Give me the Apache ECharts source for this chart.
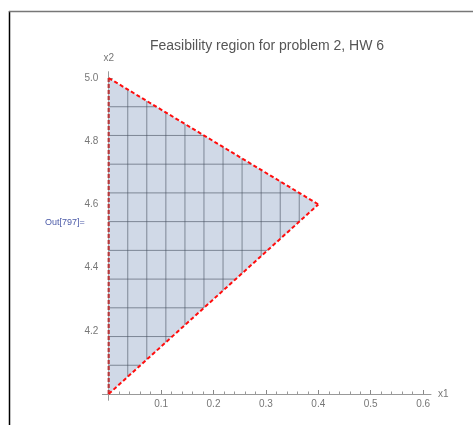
<!DOCTYPE html>
<html>
<head>
<meta charset="utf-8">
<script src="https://cdn.jsdelivr.net/npm/echarts@6/dist/echarts.min.js"></script>
<style>html,body{margin:0;padding:0;background:#fff}#c{width:473px;height:425px}</style>
</head>
<body>
<div id="c"></div>
<script>
// Feasible region vertices (x1, x2)
const regionX = [0, 0.4, 0];
const regionY = [5.0, 4.6, 4.0];
// Boundary segments: top constraint, bottom constraint, x1 = 0
const topLine = [[0, 5.0], [0.4, 4.6]];
const bottomLine = [[0, 4.0], [0.4, 4.6]];
const leftLine = [[0, 4.0], [0, 5.0]];
// Mesh line positions
const meshX = [0.0364, 0.0727, 0.1091, 0.1455, 0.1818, 0.2182, 0.2545, 0.2909, 0.3273, 0.3636];
const meshY = [4.0909, 4.1818, 4.2727, 4.3636, 4.4545, 4.5455, 4.6364, 4.7273, 4.8182, 4.9091];
// Ticks
const xMajor = [0.1, 0.2, 0.3, 0.4, 0.5, 0.6];
const xMinor = [0.02, 0.04, 0.06, 0.08, 0.12, 0.14, 0.16, 0.18, 0.22, 0.24, 0.26, 0.28, 0.32, 0.34, 0.36, 0.38, 0.42, 0.44, 0.46, 0.48, 0.52, 0.54, 0.56, 0.58];
const yMajor = [4.2, 4.4, 4.6, 4.8, 5.0];
const yMinor = [4.05, 4.1, 4.15, 4.25, 4.3, 4.35, 4.45, 4.5, 4.55, 4.65, 4.7, 4.75, 4.85, 4.9, 4.95];

const poly = regionX.map((x, i) => [x, regionY[i]]);

// clip a vertical/horizontal line to the polygon
function clip(val, vertical) {
  const hits = [];
  for (let i = 0; i < poly.length; i++) {
    const a = poly[i], b = poly[(i + 1) % poly.length];
    const ai = vertical ? 0 : 1, oi = vertical ? 1 : 0;
    const lo = Math.min(a[ai], b[ai]), hi = Math.max(a[ai], b[ai]);
    if (val < lo || val > hi || a[ai] === b[ai]) continue;
    const t = (val - a[ai]) / (b[ai] - a[ai]);
    hits.push(a[oi] + t * (b[oi] - a[oi]));
  }
  const mn = Math.min(...hits), mx = Math.max(...hits);
  return vertical ? [val, mn, val, mx] : [mn, val, mx, val];
}
const meshSegs = meshX.map(v => clip(v, true)).concat(meshY.map(v => clip(v, false)));

const X_LO = -0.012, X_HI = 0.615, Y_LO = 3.98, Y_HI = 5.02;
const labelColor = '#777';
const fontFam = '"Liberation Sans", Arial, sans-serif';

const chart = echarts.init(document.getElementById('c'), null, {renderer: 'canvas'});
chart.setOption({
  animation: false,
  backgroundColor: '#fff',
  title: {
    text: 'Feasibility region for problem 2, HW 6',
    left: 262, top: 34, textAlign: 'center',
    textStyle: {fontSize: 14, fontWeight: 'normal', color: '#555', fontFamily: fontFam}
  },
  graphic: [
    {type: 'line', shape: {x1: 9.5, y1: 11, x2: 9.5, y2: 425}, style: {stroke: '#000', lineWidth: 1.5}},
    {type: 'line', shape: {x1: 9, y1: 11.5, x2: 473, y2: 11.5}, style: {stroke: '#777', lineWidth: 1.5}},
    {type: 'text', left: 45, top: 218, style: {text: 'Out[797]=', fill: '#4b5aa8', font: '9px ' + fontFam}}
  ],
  grid: {left: 102.4, top: 71.7, width: 328.6, height: 328.6, containLabel: false},
  xAxis: [
    {
      type: 'value', min: X_LO, max: X_HI, offset: -6.3,
      name: 'x1', nameLocation: 'end', nameGap: 7,
      nameTextStyle: {color: labelColor, fontSize: 10, fontFamily: fontFam, verticalAlign: 'middle'},
      axisLine: {show: true, onZero: false, lineStyle: {color: '#999', width: 1}},
      axisTick: {show: true, inside: true, length: 4, customValues: xMajor, lineStyle: {color: '#888'}},
      axisLabel: {show: true, customValues: xMajor, color: labelColor, fontSize: 10, fontFamily: fontFam, margin: 5,
        formatter: v => v.toFixed(1)},
      splitLine: {show: false}
    },
    {
      type: 'value', min: X_LO, max: X_HI, offset: -6.3, position: 'bottom',
      axisLine: {show: false, onZero: false},
      axisTick: {show: true, inside: true, length: 2.5, customValues: xMinor, lineStyle: {color: '#999'}},
      axisLabel: {show: false}, splitLine: {show: false}
    }
  ],
  yAxis: [
    {
      type: 'value', min: Y_LO, max: Y_HI,
      name: 'x2', nameLocation: 'end', nameGap: 8,
      nameTextStyle: {color: labelColor, fontSize: 10, fontFamily: fontFam, align: 'center'},
      axisLine: {show: true, onZero: true, onZeroAxisIndex: 0, lineStyle: {color: '#999', width: 1}},
      axisTick: {show: true, inside: true, length: 4, customValues: yMajor, lineStyle: {color: '#888'}},
      axisLabel: {show: true, customValues: yMajor, color: labelColor, fontSize: 10, fontFamily: fontFam, margin: 4,
        formatter: v => v.toFixed(1)},
      splitLine: {show: false}
    },
    {
      type: 'value', min: Y_LO, max: Y_HI, position: 'left',
      axisLine: {show: false, onZero: true, onZeroAxisIndex: 0},
      axisTick: {show: true, inside: true, length: 2.5, customValues: yMinor, lineStyle: {color: '#999'}},
      axisLabel: {show: false}, splitLine: {show: false}
    }
  ],
  series: [
    {
      type: 'custom', xAxisIndex: 0, yAxisIndex: 0, silent: true, z: 1,
      data: [0],
      renderItem: (params, api) => ({
        type: 'polygon',
        shape: {points: poly.map(p => api.coord(p))},
        style: {fill: '#d0d9e7', stroke: 'none'}
      })
    },
    {
      type: 'custom', xAxisIndex: 0, yAxisIndex: 0, silent: true, z: 2,
      data: meshSegs,
      renderItem: (params, api) => {
        const p1 = api.coord([api.value(0), api.value(1)]);
        const p2 = api.coord([api.value(2), api.value(3)]);
        return {type: 'line', shape: {x1: p1[0], y1: p1[1], x2: p2[0], y2: p2[1]},
          style: {stroke: 'rgba(70,80,95,0.6)', lineWidth: 1}};
      }
    },
    {type: 'line', data: leftLine, symbol: 'none', z: 3, lineStyle: {color: '#b8383a', width: 2.2, type: [4, 2]}},
    {type: 'line', data: topLine, symbol: 'none', z: 3, lineStyle: {color: '#ff0d0d', width: 2, type: [4, 2.5]}},
    {type: 'line', data: bottomLine, symbol: 'none', z: 3, lineStyle: {color: '#ff0d0d', width: 2, type: [4, 2.5]}}
  ]
});
</script>
</body>
</html>
